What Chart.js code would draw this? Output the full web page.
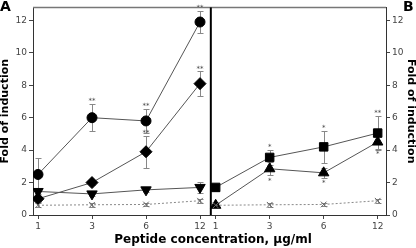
<!DOCTYPE html>
<html>
<head>
<meta charset="utf-8">
<script src="https://cdn.jsdelivr.net/npm/chart.js@4.4.1/dist/chart.umd.min.js"></script>
<style>
  html, body { margin: 0; padding: 0; background: #fff; }
</style>
</head>
<body>
<canvas id="chart" width="416" height="248"></canvas>
<script>
// concentrations (x categories), both panels
var concentrations = ['1', '3', '6', '12'];
var yTicks = [0, 2, 4, 6, 8, 10, 12];

// panel A
var aCircle = [2.5, 6.0, 5.8, 11.9];
var aCircleErr = [1.0, 0.85, 0.75, 0.7];
var aCircleSig = ['', '**', '**', '**'];
var aDiamond = [1.0, 2.0, 3.9, 8.1];
var aDiamondErr = [0.2, 0.15, 1.0, 0.75];
var aDiamondSig = ['', '', '**', '**'];
var aTriDown = [1.45, 1.3, 1.55, 1.7];
var aTriDownErr = [0.15, 0.1, 0.15, 0.35];
var aControl = [0.6, 0.63, 0.65, 0.88];
var aControlErr = [0.12, 0.12, 0.12, 0.12];

// panel B
var bSquare = [1.7, 3.55, 4.2, 5.05];
var bSquareErr = [0.2, 0.45, 1.0, 1.05];
var bSquareSig = ['', '*', '*', '**'];
var bTriangle = [0.6, 2.85, 2.6, 4.5];
var bTriangleErr = [0.12, 0.4, 0.3, 0.4];
var bTriangleSig = ['', '*', '*', '*'];
var bControl = [0.6, 0.63, 0.65, 0.88];
var bControlErr = [0.12, 0.12, 0.12, 0.12];

// panel B sits to the right of panel A on one linear x axis
var offsetB = 3.29;
var dividerAt = 3.2;

function pts(values, offset) {
    return values.map(function(v, i) { return { x: i + offset, y: v }; });
}

var lineGrey = '#555';
var errGrey = '#888';

function series(values, offset, style, extra) {
    var ds = {
        data: pts(values, offset),
        borderColor: lineGrey,
        borderWidth: 1,
        backgroundColor: '#000',
        pointBackgroundColor: '#000',
        pointBorderColor: '#000',
        pointBorderWidth: 1,
        pointStyle: style,
        pointRadius: 5,
        fill: false,
        tension: 0
    };
    for (var k in extra) ds[k] = extra[k];
    return ds;
}

var controlStyle = { borderColor: '#888', borderDash: [2, 2], pointBorderColor: '#666', pointBackgroundColor: '#666', pointRadius: 4 };

var datasets = [
    series(aControl, 0, 'crossRot', Object.assign({ err: aControlErr }, controlStyle)),
    series(aTriDown, 0, 'triangle', { err: aTriDownErr, rotation: 180, pointRadius: 6 }),
    series(aDiamond, 0, 'rectRot', { err: aDiamondErr, sig: aDiamondSig, pointRadius: 6 }),
    series(aCircle, 0, 'circle', { err: aCircleErr, sig: aCircleSig }),
    series(bControl, offsetB, 'crossRot', Object.assign({ err: bControlErr }, controlStyle)),
    series(bTriangle, offsetB, 'triangle', { err: bTriangleErr, sig: bTriangleSig, sigBelow: true, pointRadius: 6 }),
    series(bSquare, offsetB, 'rect', { err: bSquareErr, sig: bSquareSig, pointRadius: 6 })
];

var tickPositions = [];
concentrations.forEach(function(c, i) { tickPositions.push(i); });
concentrations.forEach(function(c, i) { tickPositions.push(i + offsetB); });

var extras = {
    id: 'extras',
    beforeDatasetsDraw: function(chart) {
        var ctx = chart.ctx, x = chart.scales.x, y = chart.scales.y;
        ctx.save();
        ctx.strokeStyle = errGrey;
        ctx.lineWidth = 1;
        chart.data.datasets.forEach(function(ds) {
            if (!ds.err) return;
            ds.data.forEach(function(p, i) {
                var e = ds.err[i];
                if (!e) return;
                var px = Math.round(x.getPixelForValue(p.x)) + 0.5;
                var top = Math.round(y.getPixelForValue(p.y + e)) + 0.5;
                var bot = Math.round(y.getPixelForValue(p.y - e)) + 0.5;
                ctx.beginPath();
                ctx.moveTo(px, top); ctx.lineTo(px, bot);
                ctx.moveTo(px - 3, top); ctx.lineTo(px + 3, top);
                ctx.moveTo(px - 3, bot); ctx.lineTo(px + 3, bot);
                ctx.stroke();
            });
        });
        ctx.restore();
    },
    afterDatasetsDraw: function(chart) {
        var ctx = chart.ctx, x = chart.scales.x, y = chart.scales.y;
        ctx.save();
        ctx.fillStyle = '#444';
        ctx.font = '7px "DejaVu Sans"';
        ctx.textAlign = 'center';
        chart.data.datasets.forEach(function(ds) {
            if (!ds.sig) return;
            ds.data.forEach(function(p, i) {
                var s = ds.sig[i];
                if (!s) return;
                var px = x.getPixelForValue(p.x);
                if (ds.sigBelow) {
                    ctx.textBaseline = 'top';
                    ctx.fillText(s, px, y.getPixelForValue(p.y - ds.err[i]) + 2);
                } else {
                    ctx.textBaseline = 'bottom';
                    ctx.fillText(s, px, y.getPixelForValue(p.y + ds.err[i]) + 1);
                }
            });
        });
        ctx.restore();
    },
    afterDraw: function(chart) {
        var ctx = chart.ctx, a = chart.chartArea, x = chart.scales.x;
        ctx.save();
        // top frame
        ctx.strokeStyle = '#777';
        ctx.lineWidth = 1.5;
        ctx.beginPath();
        ctx.moveTo(a.left, a.top);
        ctx.lineTo(a.right, a.top);
        ctx.stroke();
        // panel divider
        var dx = x.getPixelForValue(dividerAt);
        ctx.strokeStyle = '#000';
        ctx.lineWidth = 2;
        ctx.beginPath();
        ctx.moveTo(dx, a.top);
        ctx.lineTo(dx, a.bottom);
        ctx.stroke();
        // texts
        ctx.fillStyle = '#000';
        ctx.font = 'bold 12px "DejaVu Sans"';
        ctx.textAlign = 'center';
        ctx.textBaseline = 'middle';
        ctx.fillText('Peptide concentration, µg/ml', 213, 240);
        ctx.font = 'bold 14px "DejaVu Sans"';
        ctx.textAlign = 'left';
        ctx.textBaseline = 'top';
        ctx.fillText('A', 0, 0);
        ctx.fillText('B', 403, 0);
        ctx.restore();
    }
};

var tickFont = { family: 'DejaVu Sans', size: 9 };
var titleFont = { family: 'DejaVu Sans', size: 11, weight: 'bold', lineHeight: 1 };

function yAxis(position, width) {
    return {
        type: 'linear',
        position: position,
        min: 0,
        max: 12.8,
        afterBuildTicks: function(scale) {
            scale.ticks = yTicks.map(function(v) { return { value: v }; });
        },
        afterFit: function(scale) { scale.width = width; },
        ticks: { font: tickFont, color: '#444', padding: 2 },
        grid: { drawOnChartArea: false, drawTicks: true, tickLength: 4, color: '#444' },
        border: { display: true, color: '#333', width: 1 },
        title: { display: true, text: 'Fold of induction', font: titleFont, color: '#000', padding: 0 }
    };
}

new Chart(document.getElementById('chart').getContext('2d'), {
    type: 'line',
    data: { datasets: datasets },
    options: {
        responsive: false,
        animation: false,
        maintainAspectRatio: false,
        layout: { padding: { top: 6, left: 0, right: 0, bottom: 0 } },
        plugins: { legend: { display: false }, tooltip: { enabled: false } },
        scales: {
            x: {
                type: 'linear',
                min: -0.0926,
                max: 6.444,
                afterBuildTicks: function(scale) {
                    scale.ticks = tickPositions.map(function(v) { return { value: v }; });
                },
                afterFit: function(scale) { scale.height = 33; },
                ticks: {
                    font: tickFont,
                    color: '#444',
                    padding: 2,
                    maxRotation: 0,
                    autoSkip: false,
                    callback: function(value, index) {
                        return concentrations[index % concentrations.length];
                    }
                },
                grid: { drawOnChartArea: false, drawTicks: true, tickLength: 4, color: '#444' },
                border: { display: true, color: '#333', width: 1 }
            },
            y: yAxis('left', 33),
            y2: yAxis('right', 30)
        }
    },
    plugins: [extras]
});
</script>
</body>
</html>
